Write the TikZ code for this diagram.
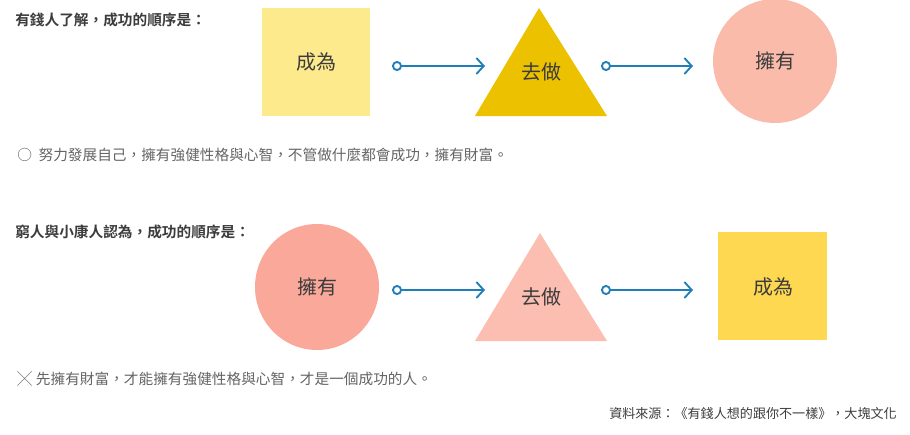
\documentclass[tikz,border=0pt]{standalone}
\usepackage{fontspec}
\setmainfont{Noto Sans CJK TC}[BoldFont={Noto Sans CJK TC Bold}]
\usetikzlibrary{arrows.meta}

\definecolor{lightyellow}{RGB}{253,234,140}
\definecolor{gold}{RGB}{236,194,0}
\definecolor{peach}{RGB}{251,187,170}
\definecolor{salmon}{RGB}{249,168,154}
\definecolor{rosetri}{RGB}{251,190,177}
\definecolor{sunyellow}{RGB}{254,216,80}
\definecolor{flowblue}{RGB}{30,127,185}
\definecolor{darktext}{RGB}{60,60,60}
\definecolor{bodytext}{RGB}{100,100,100}

\begin{document}
\begin{tikzpicture}[x=0.75pt,y=0.75pt,yscale=-1,xscale=1,
  flow/.style={draw=flowblue,line width=1.4pt,{Circle[open,length=7.5pt,width=7.5pt,fill=white]}-{Straight Barb[length=5.5pt,width=12pt,line width=1.4pt]}},
  shapetext/.style={text=darktext,font=\fontsize{15}{18}\selectfont},
  headtext/.style={anchor=west,text=darktext,font=\fontsize{11}{13}\selectfont\bfseries,inner sep=0pt},
  bodyline/.style={anchor=west,text=bodytext,font=\fontsize{11}{13}\selectfont,inner sep=0pt}]
\path[use as bounding box] (0,0) rectangle (910,435);

%Heading: rich
\node[headtext] (headrich) at (15,20) {有錢人了解，成功的順序是：};

%Shape: Square [id:become1]
\fill[lightyellow] (262,8) rectangle (370,116);
\node[shapetext] (become1) at (316,62) {成為};
%Shape: Triangle [id:do1]
\fill[gold] (539,8) -- (607,116) -- (475,116) -- cycle;
\node[shapetext] (do1) at (541,72) {去做};
%Shape: Circle [id:have1]
\fill[peach] (775,61) circle [radius=62];
\node[shapetext] (have1) at (775,61) {擁有};

%Straight Lines
\coordinate (f1s) at (392,66);
\coordinate (f1e) at (485,66);
\coordinate (f2s) at (601,66);
\coordinate (f2e) at (693,66);
\draw[flow] (f1s) -- (f1e);
\draw[flow] (f2s) -- (f2e);

\node[bodyline] (bodyrich) at (17,155) {○\hspace{5pt}努力發展自己，擁有強健性格與心智，不管做什麼都會成功，擁有財富。};

%Heading: poor
\node[headtext] (headpoor) at (15,232) {窮人與小康人認為，成功的順序是：};

%Shape: Circle [id:have2]
\fill[salmon] (317,287) ellipse [x radius=62,y radius=63];
\node[shapetext] (have2) at (317,287) {擁有};
%Shape: Triangle [id:do2]
\fill[rosetri] (540,233) -- (607,341) -- (475,341) -- cycle;
\node[shapetext] (do2) at (541,297) {去做};
%Shape: Square [id:become2]
\fill[sunyellow] (718,232) rectangle (827,340);
\node[shapetext] (become2) at (773,287) {成為};

%Straight Lines
\coordinate (f3s) at (392,290);
\coordinate (f3e) at (485,290);
\coordinate (f4s) at (601,290);
\coordinate (f4e) at (693,290);
\draw[flow] (f3s) -- (f3e);
\draw[flow] (f4s) -- (f4e);

\node[bodyline] (bodypoor) at (17,379) {╳\hspace{3pt}先擁有財富，才能擁有強健性格與心智，才是一個成功的人。};

\node[anchor=east,text=darktext,font=\fontsize{9.8}{12}\selectfont,inner sep=0pt] (source) at (897,414) {資料來源：《有錢人想的跟你不一樣》，大塊文化};
\end{tikzpicture}
\end{document}
